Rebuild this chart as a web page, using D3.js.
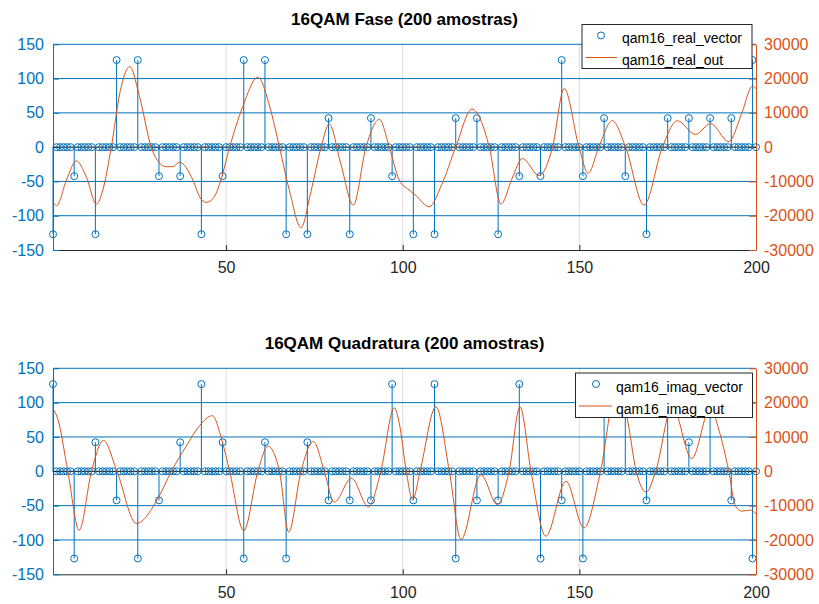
<!DOCTYPE html>
<html>
<head>
<meta charset="utf-8">
<script src="https://cdn.jsdelivr.net/npm/d3@7"></script>
<style>
body{margin:0;background:#fff;}
svg{display:block;font-family:"Liberation Sans",Arial,sans-serif;}
</style>
</head>
<body>
<svg id="chart" width="819" height="604"></svg>
<script>
"use strict";

// samples 1..200, one symbol every 6 samples (zeros between)
var nSamples = 200;
var symbolStep = 6;

var realSymbols = [-127,-42.3,-127,127,127,-42.3,-42.3,-127,-42.3,127,
	127,-127,-127,42.3,-127,42.3,-42.3,-127,-127,42.3,
	42.3,-127,-42.3,-42.3,127,-42.3,42.3,-42.3,-127,42.3,
	42.3,42.3,42.3,127];

var imagSymbols = [127,-127,42.3,-42.3,-127,-42.3,42.3,127,42.3,-127,
	42.3,-127,42.3,-42.3,-42.3,-42.3,127,-42.3,127,-127,
	-42.3,-42.3,127,-127,-42.3,-127,127,127,-42.3,127,
	42.3,127,-42.3,-127];

// filter output (sample index, value)
var realOutIdx = [1,2,4.8,7.6,10.4,13.3,15.1,17.5,19.9,22.7,25.5,28.8,31.2,33,34.9,36.8,40.6,42.5,44.4,46.3,48.1,51,
	54.7,59,62.3,65.1,68,71.2,74,76.9,79.2,82.5,86,89.6,93.4,96.2,99,101.8,103.8,107.5,111,115,
	119.6,124.5,127.8,131,133.9,138.6,142.4,145.7,149.9,152.5,155.5,159.3,163.1,168.3,173.5,
	177.7,182.9,187.1,192.3,196,199,200];
var realOutVal = [-15900,-17100,-9600,-4000,-8600,-16600,-12500,0,15700,23500,14700,0,-4700,-5700,-5700,-4400,-9600,-14500,-16100,-15000,-11000,0,
	11800,20400,12000,0,-13000,-23500,-13000,0,6700,-5000,-16900,0,8100,0,-9600,-12500,-14200,-17400,-11000,0,
	11100,0,-16600,-9000,-3300,-8300,0,17100,0,-7600,0,7700,0,-16900,0,
	7700,3700,6900,1600,10000,17800,17000];

var imagOutIdx = [1,2.4,5.2,8.4,11.9,15.3,19.1,24.6,31,34.5,38.7,42.5,46.1,48.9,51,55,59,61.8,65.1,67.7,71.2,
	74.7,77.8,80.6,85.5,90.3,93.8,97.6,99,101,102.8,104.9,109.4,113.2,116.5,122.1,126.8,130.1,133.2,
	136.3,140.5,146.2,151.3,156,160.3,163.4,166.1,168.9,171.6,176.3,181.8,187.1,189.5,192.3,194.2,
	196,198.5,200];
var imagOutVal = [18200,15100,0,-17200,0,9000,0,-15200,-7300,0,7300,13300,16200,8700,0,-17300,0,7300,0,-17700,0,
	8700,0,-9000,-2000,-10400,0,18500,14100,0,-8300,0,18800,0,-19900,-1000,-9700,0,18800,
	0,-18900,-2900,-16500,0,23000,16000,0,-6100,0,19000,3700,18500,12000,0,-10200,
	-11600,-11300,-12500];

var leftTicks = [-150,-100,-50,0,50,100,150];
var rightTicks = [-30000,-20000,-10000,0,10000,20000,30000];
var xTicks = [50,100,150,200];

var blue = "#0072BD", orange = "#D95319", axisGray = "#262626";

var svg = d3.select("#chart");
var xScale = d3.scaleLinear().domain([1, nSamples]).range([53, 756]);
var plain = function(d){return String(d);};

function drawPanel(cfg){

	var yLeft = d3.scaleLinear().domain([-150,150]).range([cfg.bottom, cfg.top]);
	var yRight = d3.scaleLinear().domain([-30000,30000]).range([cfg.bottom, cfg.top]);
	var g = svg.append("g");

	var samples = d3.range(1, nSamples + 1).map(function(i){
		var k = i - 1;
		return {i: i, v: (k % symbolStep === 0) ? cfg.symbols[k / symbolStep] : 0};
	});

	// vertical grid
	g.selectAll(".vgrid").data(xTicks.slice(0,3)).enter().append("line")
		.attr("x1", function(d){return xScale(d);}).attr("x2", function(d){return xScale(d);})
		.attr("y1", cfg.top).attr("y2", cfg.bottom)
		.attr("stroke", "#dcdcdc").attr("stroke-width", 1);

	// horizontal grid (blue)
	g.selectAll(".hgrid").data([-100,-50,50,100,150]).enter().append("line")
		.attr("x1", xScale(1)).attr("x2", xScale(nSamples))
		.attr("y1", function(d){return yLeft(d);}).attr("y2", function(d){return yLeft(d);})
		.attr("stroke", blue).attr("stroke-width", 1);

	// axes
	g.append("g")
		.attr("transform", "translate(0," + cfg.bottom + ")")
		.call(d3.axisBottom(xScale).tickValues(xTicks).tickFormat(plain).tickSize(-5).tickSizeOuter(0).tickPadding(12))
		.call(function(a){
			a.select(".domain").attr("stroke", axisGray);
			a.selectAll(".tick line").attr("stroke", axisGray);
			a.selectAll("text").attr("fill", axisGray).style("font-size", "16px");
		});

	g.append("g")
		.attr("transform", "translate(" + xScale(1) + ",0)")
		.call(d3.axisLeft(yLeft).tickValues(leftTicks).tickFormat(plain).tickSize(-6).tickSizeOuter(0).tickPadding(9))
		.call(function(a){
			a.select(".domain").attr("stroke", blue);
			a.selectAll(".tick line").attr("stroke", blue);
			a.selectAll("text").attr("fill", blue).style("font-size", "16px");
		});

	g.append("g")
		.attr("transform", "translate(" + xScale(nSamples) + ",0)")
		.call(d3.axisRight(yRight).tickValues(rightTicks).tickFormat(plain).tickSize(-7).tickSizeOuter(0).tickPadding(8))
		.call(function(a){
			a.select(".domain").attr("stroke", orange);
			a.selectAll(".tick line").attr("stroke", orange);
			a.selectAll("text").attr("fill", orange).style("font-size", "16px");
		});

	// stems
	g.selectAll(".stem").data(samples.filter(function(d){return d.v !== 0;})).enter().append("line")
		.attr("x1", function(d){return xScale(d.i);}).attr("x2", function(d){return xScale(d.i);})
		.attr("y1", yLeft(0)).attr("y2", function(d){return yLeft(d.v);})
		.attr("stroke", blue).attr("stroke-width", 1);

	// baseline
	g.append("line")
		.attr("x1", xScale(1)).attr("x2", xScale(nSamples))
		.attr("y1", yLeft(0)).attr("y2", yLeft(0))
		.attr("stroke", "#000").attr("stroke-width", 1);

	// markers
	g.selectAll(".mk").data(samples).enter().append("circle")
		.attr("cx", function(d){return xScale(d.i);})
		.attr("cy", function(d){return yLeft(d.v);})
		.attr("r", 3.5)
		.attr("fill", "none").attr("stroke", blue).attr("stroke-width", 1);

	// filter output line
	var outData = cfg.outIdx.map(function(d, j){return {i: d, v: cfg.outVal[j]};});
	var outLine = d3.line()
		.x(function(d){return xScale(d.i);})
		.y(function(d){return yRight(d.v);})
		.curve(d3.curveMonotoneX);
	g.append("path")
		.attr("d", outLine(outData))
		.attr("fill", "none").attr("stroke", orange).attr("stroke-width", 1);

	// title
	g.append("text")
		.attr("x", (xScale(1) + xScale(nSamples)) / 2).attr("y", cfg.titleY)
		.attr("text-anchor", "middle")
		.style("font-size", "17px").style("font-weight", "bold")
		.text(cfg.title);

	// legend
	var L = cfg.legend;
	var lg = g.append("g").attr("transform", "translate(" + L.x + "," + L.y + ")");
	lg.append("rect")
		.attr("x", 0.5).attr("y", 0.5).attr("width", L.w).attr("height", L.h)
		.attr("fill", "#fff").attr("stroke", axisGray).attr("stroke-width", 1);
	lg.append("circle")
		.attr("cx", L.mx).attr("cy", 11.5).attr("r", 3.5)
		.attr("fill", "none").attr("stroke", blue);
	lg.append("line")
		.attr("x1", 4).attr("x2", L.mx + 16).attr("y1", 33.5).attr("y2", 33.5)
		.attr("stroke", orange).attr("stroke-width", 1);
	lg.selectAll(".lt").data(L.names).enter().append("text")
		.attr("x", L.tx).attr("y", function(d, j){return 19 + j * 22;})
		.style("font-size", "14px").attr("fill", "#000")
		.text(function(d){return d;});
}

drawPanel({
	top: 44.3, bottom: 250, titleY: 24.5,
	title: "16QAM Fase (200 amostras)",
	symbols: realSymbols, outIdx: realOutIdx, outVal: realOutVal,
	legend: {x: 581.5, y: 24, w: 170, h: 44, mx: 19.5, tx: 40.5,
		names: ["qam16_real_vector", "qam16_real_out"]}
});

drawPanel({
	top: 368.3, bottom: 574.3, titleY: 348.5,
	title: "16QAM Quadratura (200 amostras)",
	symbols: imagSymbols, outIdx: imagOutIdx, outVal: imagOutVal,
	legend: {x: 575, y: 372.5, w: 177, h: 44.5, mx: 21, tx: 41,
		names: ["qam16_imag_vector", "qam16_imag_out"]}
});
</script>
</body>
</html>
